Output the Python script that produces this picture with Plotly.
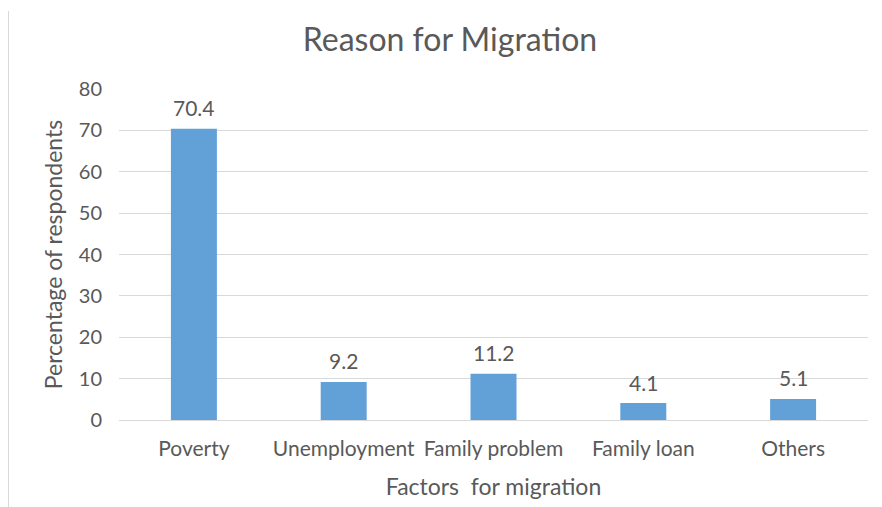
import plotly.graph_objects as go

categories = ["Poverty", "Unemployment", "Family problem", "Family loan", "Others"]
values = [70.4, 9.2, 11.2, 4.1, 5.1]
y_ticks = [0, 10, 20, 30, 40, 50, 60, 70, 80]

TXT = "#595959"
FONT = "Lato"

W, H = 866, 499          # page adds an 8px body margin
L, T, PW, PH = 111, 81, 749, 331

fig = go.Figure(go.Bar(
    x=categories, y=values,
    marker=dict(color="#62A0D8", line=dict(width=0)),
))

for c, v in zip(categories, values):
    fig.add_annotation(x=c, y=v, xref="x", yref="y", text=f"{v:.1f}",
                       showarrow=False, yanchor="middle", yshift=21,
                       font=dict(size=21, color=TXT, family=FONT))

fig.update_layout(
    width=W, height=H,
    margin=dict(l=L, r=W - L - PW, t=T, b=H - T - PH),
    paper_bgcolor="white", plot_bgcolor="white",
    bargap=0.693,
    showlegend=False,
    font=dict(family=FONT, color=TXT),
    title=dict(text="Reason for Migration", x=442 / W, xanchor="center",
               y=1 - 32 / H, yanchor="middle",
               font=dict(size=32, color=TXT, family=FONT)),
    xaxis=dict(
        title=dict(text="Factors&nbsp; for migration", font=dict(size=23, color=TXT), standoff=19),
        tickfont=dict(size=21, color=TXT),
        ticklabelstandoff=10,
        showline=True, linecolor="#D9D9D9", linewidth=1,
        ticks="", showgrid=False,
    ),
    yaxis=dict(
        title=dict(text="Percentage of respondents", font=dict(size=23, color=TXT), standoff=9),
        range=[0, 80], tickvals=y_ticks,
        tickfont=dict(size=20, color=TXT),
        ticklabelstandoff=16,
        showgrid=True, gridcolor="#D9D9D9", gridwidth=1,
        zeroline=False, ticks="", ticklen=0,
    ),
    shapes=[dict(type="line", xref="paper", yref="paper",
                 x0=(0 - L) / PW, x1=(0 - L) / PW,
                 y0=(T + PH - 3) / PH, y1=(T + PH - H) / PH,
                 line=dict(color="#D9D9D9", width=2))],
)

fig.write_html("out.html")
